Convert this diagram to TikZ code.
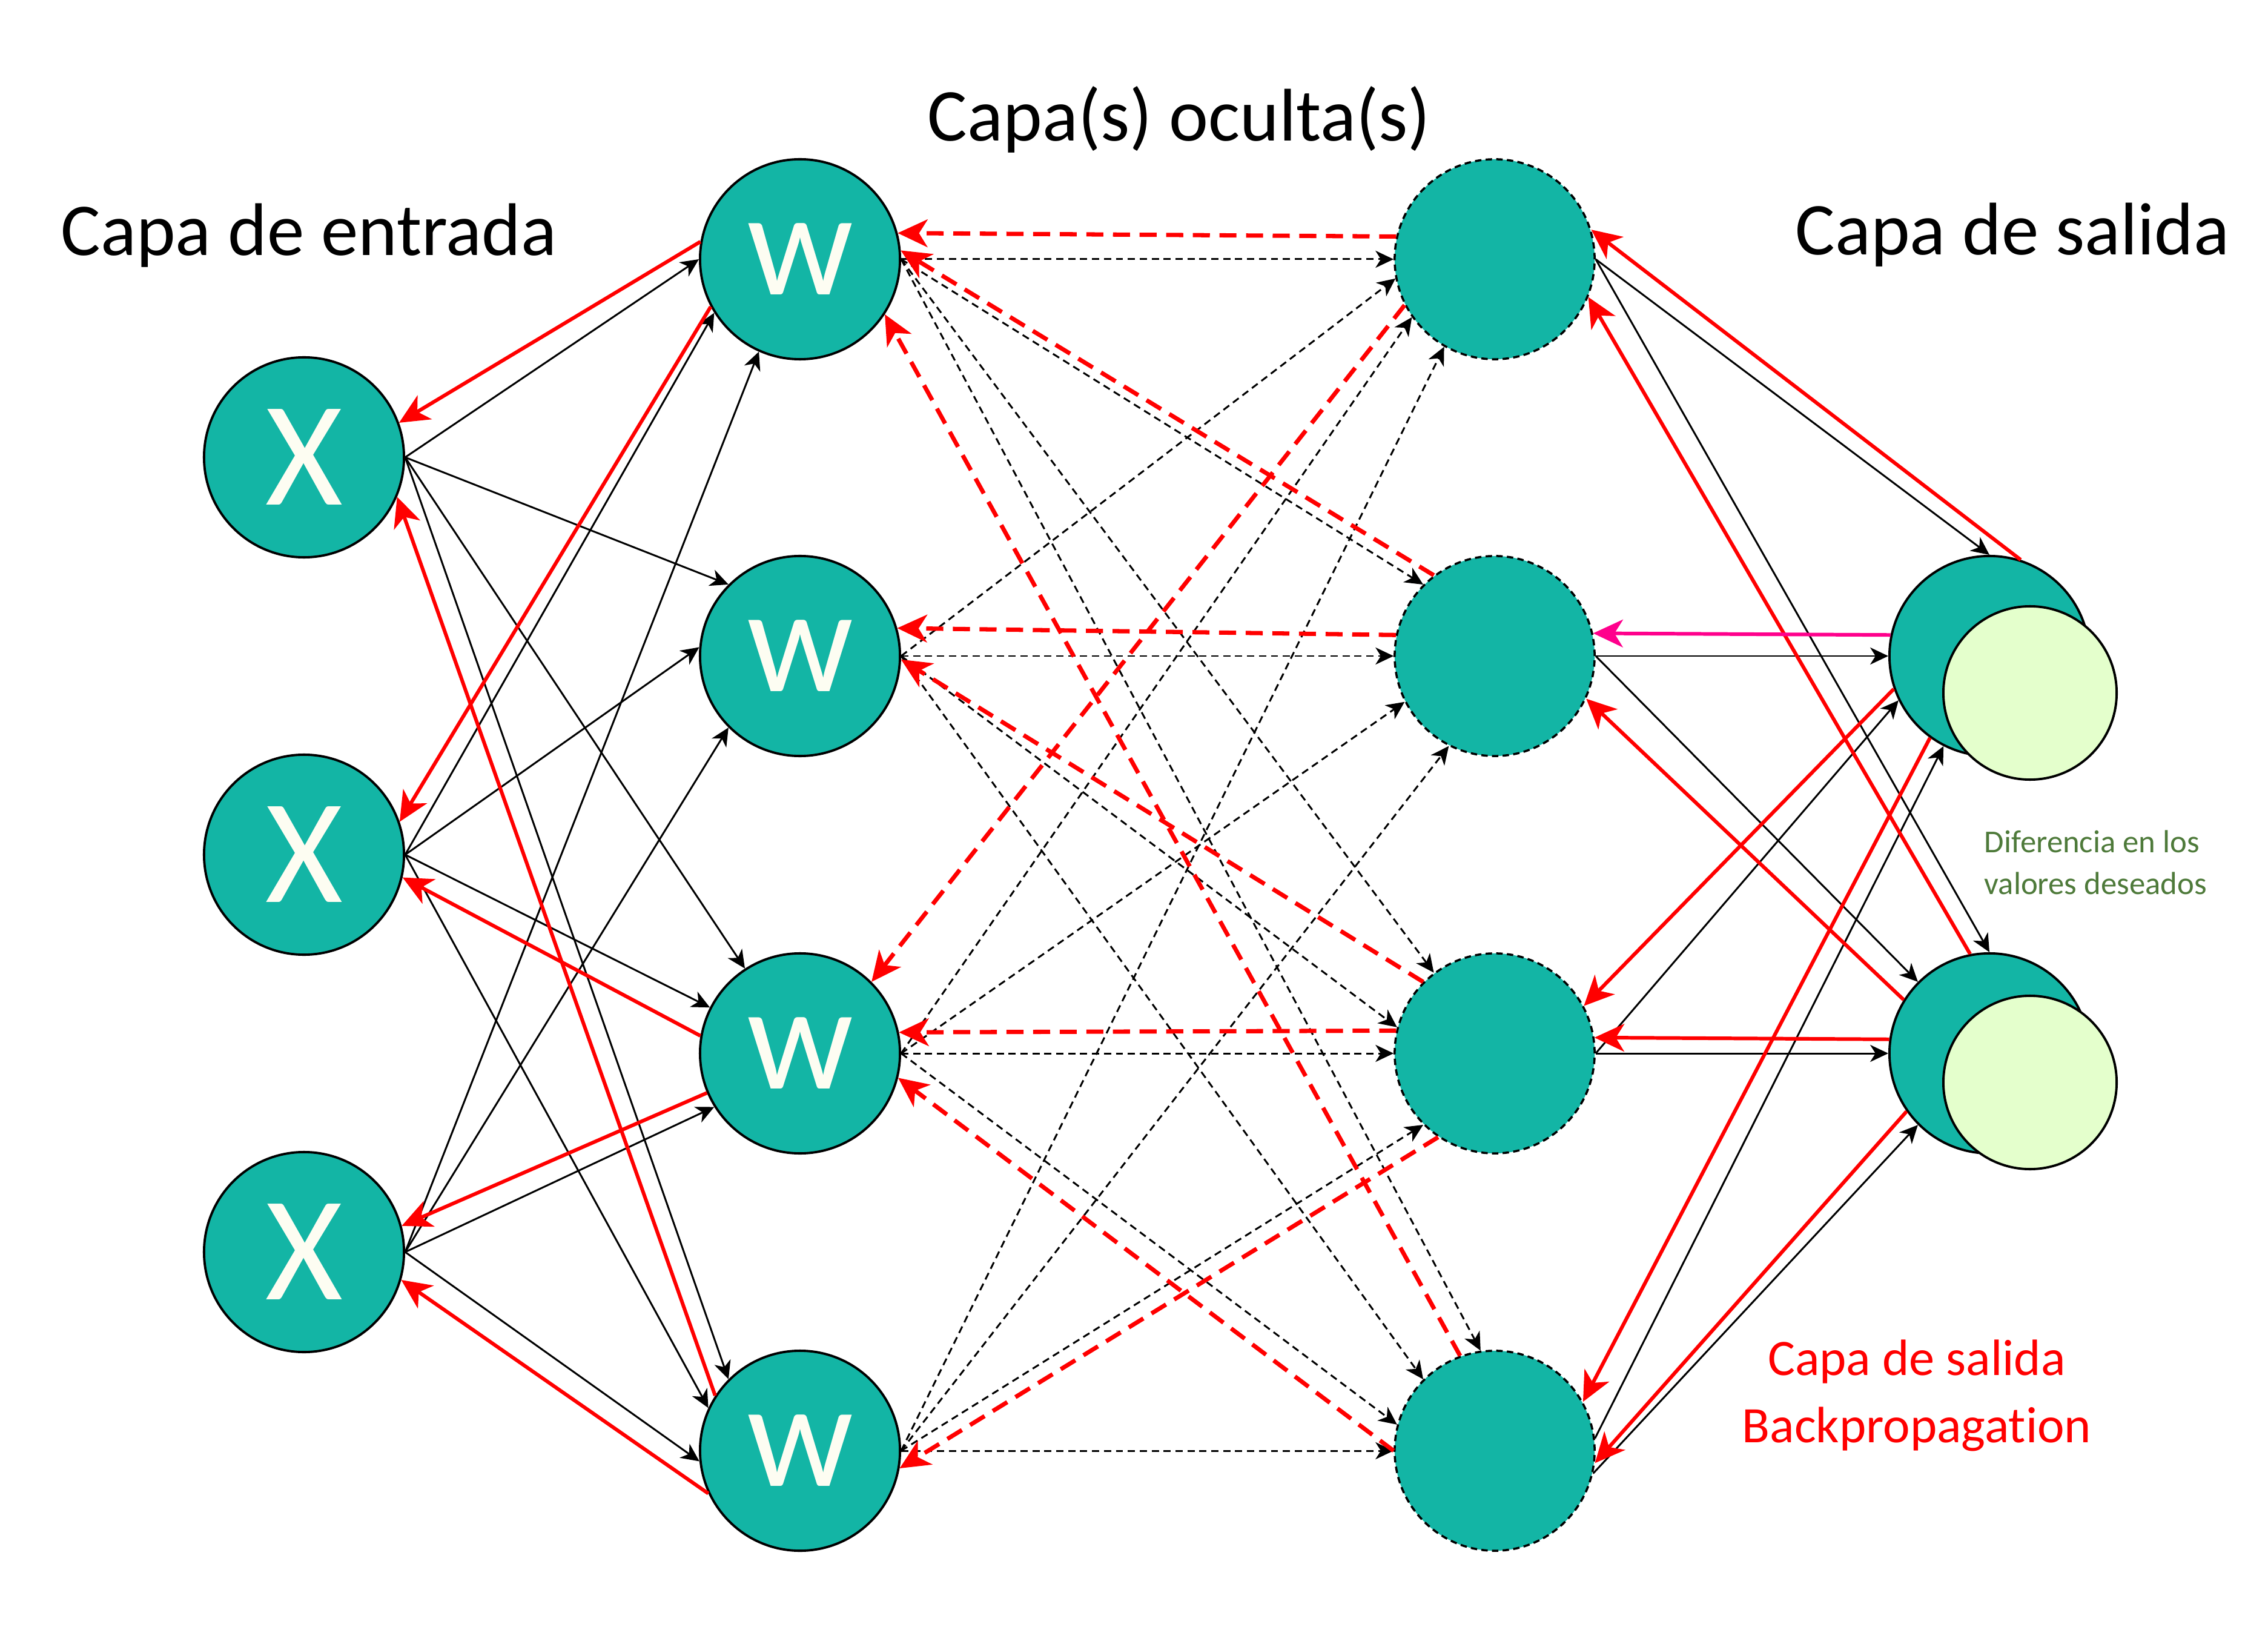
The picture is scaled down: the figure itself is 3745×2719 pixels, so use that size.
\documentclass[tikz,border=0pt]{standalone}
\usepackage{fontspec}
\setmainfont{Carlito}[Ligatures=CommonOff]
\usetikzlibrary{arrows.meta}
\definecolor{neuronfill}{RGB}{19,181,165}
\definecolor{difffill}{RGB}{228,255,204}
\definecolor{errpink}{RGB}{255,0,140}
\definecolor{notegreen}{RGB}{78,122,58}
\definecolor{letterwhite}{RGB}{253,253,242}

\begin{document}
\begin{tikzpicture}[x=0.01cm, y=-0.01cm]
\tikzset{neuron/.style={circle, draw, line width=1.1pt, fill=neuronfill, minimum size=3.3cm, inner sep=0pt, text=letterwhite, font=\fontsize{70}{80}\selectfont},
	hidden/.style={neuron, line width=1pt, dash pattern=on 3pt off 2pt},
	diff/.style={circle, draw, line width=1.1pt, fill=difffill, minimum size=2.86cm, inner sep=0pt},
	layer/.style={anchor=base, font=\fontsize{35}{42}\selectfont},
	fwd/.style={-{Stealth[length=8.5pt, width=8pt, inset=2.5pt]}, line width=0.85pt},
	fwddash/.style={fwd, dash pattern=on 3.4pt off 2.2pt},
	bwd/.style={-{Stealth[length=14pt, width=13pt, inset=4pt]}, line width=1.7pt, red},
	bwddash/.style={bwd, line width=2pt, dash pattern=on 8pt off 4.5pt},
	diffarrow/.style={bwd, errpink}}
\useasboundingbox (0,0) rectangle (3745,2719);
				\foreach \n/\y in {1/755, 2/1411, 3/2067}
					\node[neuron] (x\n) at (502,\y) {X};
				\foreach \n/\y in {1/428, 2/1083, 3/1739, 4/2395} {
					\node[neuron] (w\n) at (1321,\y) {w};
					\node[hidden] (h\n) at (2468,\y) {};
				}
				\node[neuron] (o1) at (3285,1083) {};
				\node[neuron] (o2) at (3285,1739) {};
				\node[diff] (d1) at (3352,1144) {};
				\node[diff] (d2) at (3352,1787) {};
				\node[layer] (inlabel) at (510,422) {Capa de entrada};
				\node[layer] (hidlabel) at (1947,233) {Capa(s) oculta(s)};
				\node[layer] (outlabel) at (3323,421) {Capa de salida};
				\node[anchor=base west, inner sep=0pt, align=left, text=notegreen, font=\fontsize{15}{19.6}\selectfont] (difflabel) at (3276,1476) {Diferencia en los\\valores deseados};
				\node[anchor=base, align=center, text=red, font=\fontsize{24}{31.3}\selectfont] (bplabel) at (3165,2381) {Capa de salida\\Backpropagation};
				\foreach \src/\dst/\da in {1/1/180, 1/2/135, 1/3/123, 1/4/135, 2/1/212, 2/2/175, 2/3/153, 2/4/155, 3/1/246, 3/2/225, 3/3/212, 3/4/186}
					\draw[fwd] (x\src.east) -- (w\dst.\da);
				\foreach \src/\dst/\da in {1/1/180, 2/1/191, 3/1/215, 4/1/240, 1/2/135, 2/2/180, 3/2/207, 4/2/243, 1/3/127, 2/3/165, 3/3/180, 4/3/225, 1/4/98, 2/4/135, 3/4/165, 4/4/180}
					\draw[fwddash] (w\src.east) -- (h\dst.\da);
				\foreach \src/\sa/\dst/\da in {1/0/1/90, 1/0/2/90, 2/0/1/180, 2/0/2/135, 3/0/1/206, 3/0/2/180, 4/7/1/243, 4/347/2/225}
					\draw[fwd] (h\src.\sa) -- (o\dst.\da);
				\foreach \src/\sa/\dst/\da in {1/170/1/20, 1/208/2/19, 3/170/2/347, 3/203/3/15, 4/205/3/344, 4/147/1/337}
					\draw[bwd] (w\src.\sa) -- (x\dst.\da);
				\foreach \src/\sa/\dst/\da in {1/167/1/15, 2/127/1/5, 4/110/1/327, 2/168/2/16, 3/135/2/358, 1/207/3/45, 3/167/3/12, 4/180/3/346, 3/236/4/350}
					\draw[bwddash] (h\src.\sa) -- (w\dst.\da);
				\foreach \src/\sa/\dst/\da in {1/72/1/17, 2/101/1/338, 2/148/2/335, 2/172/3/9, 1/199/3/28, 1/234/4/29, 2/215/4/353}
					\draw[bwd] (o\src.\sa) -- (h\dst.\da);
				\draw[diffarrow] (o1.168) -- (h2.13);
\end{tikzpicture}
\end{document}
